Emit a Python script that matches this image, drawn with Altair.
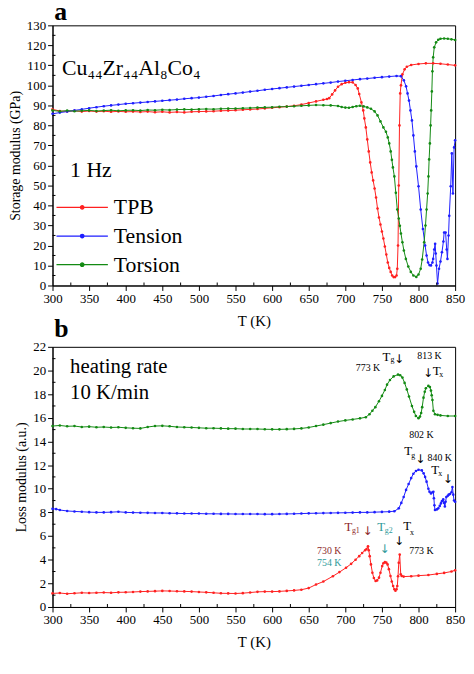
import altair as alt
import pandas as pd

FONT = "Liberation Serif"
RED = "#ff2020"
BLUE = "#1e1eff"
GREEN = "#138a13"
DARKRED = "#8e2a2a"
TEAL = "#2f9a9a"

# ---------------- panel a : storage modulus (GPa) ----------------
tpb_T = [300, 310, 320, 330, 340, 350, 360, 370, 380, 390, 400, 410, 420, 430, 440, 450, 460, 470, 480, 490,
         500, 510, 520, 530, 540, 550, 560, 570, 580, 590, 600, 610, 620, 630, 640, 650, 660, 670, 675, 678,
         682, 686, 690, 695, 700, 705, 710, 714, 717, 719, 722, 724.5, 726, 728, 730, 732, 734, 736, 738, 740,
         742, 744, 746, 748, 750, 752, 754, 756, 758, 760, 762, 764, 766, 768, 770, 771, 772, 773, 774, 775,
         776, 778, 781, 784, 790, 800, 810, 820, 830, 840, 850]
tpb_E = [88.0, 87.2, 87.0, 87.3, 86.9, 87.2, 86.9, 87.1, 86.8, 87.0, 86.8, 86.9, 86.7, 86.9, 86.6, 86.8, 86.5, 86.7, 86.5, 86.8,
         86.9, 87.0, 87.1, 87.3, 87.4, 87.6, 87.8, 88.0, 88.2, 88.5, 88.8, 89.1, 89.4, 89.8, 90.4, 91.2, 92.0, 92.8, 93.2, 93.6,
         95.5, 97.5, 99.3, 100.6, 101.3, 101.6, 101.5, 100.2, 98.5, 95.7, 91.5, 87.5, 83.5, 79.0, 73.0, 67.0, 61.5, 56.5, 52.5, 48.5,
         44.0, 38.5, 34.0, 30.5, 27.0, 23.5, 19.5, 15.5, 11.5, 8.8, 6.8, 5.0, 4.2, 4.2, 5.0, 8.4, 20.0, 50.0, 80.0, 96.0,
         100.0, 105.5, 108.0, 109.3, 110.2, 110.7, 111.0, 111.0, 110.8, 110.4, 110.0]

ten_T = [300, 310, 320, 330, 340, 350, 360, 370, 380, 390, 400, 410, 420, 430, 440, 450, 460, 470, 480, 490,
         500, 510, 520, 530, 540, 550, 560, 570, 580, 590, 600, 610, 620, 630, 640, 650, 660, 670, 680, 690,
         700, 710, 720, 730, 740, 750, 760, 770, 776, 780, 783, 785, 787, 789, 791, 793, 795, 797, 800, 803,
         806, 809, 811, 813, 815, 817, 819, 820, 821.5, 822.7, 823.5, 824.5, 826, 828, 830, 832, 834, 835, 837, 838.5,
         839.5, 841, 842, 844, 845.5, 847, 848.6, 850]
ten_E = [85.8, 86.4, 86.9, 87.5, 88.0, 88.6, 89.1, 89.6, 90.0, 90.4, 90.8, 91.1, 91.4, 91.7, 92.0, 92.3, 92.6, 92.9, 93.3, 93.6,
         93.9, 94.3, 94.7, 95.2, 95.6, 96.0, 96.4, 96.9, 97.3, 97.8, 98.2, 98.6, 99.0, 99.4, 99.8, 100.2, 100.6, 101.0, 101.4, 101.9,
         102.3, 102.7, 103.1, 103.4, 103.8, 104.1, 104.4, 104.7, 104.6, 102.5, 99.5, 96.0, 92.4, 87.5, 82.5, 75.0, 67.0, 59.5, 49.6, 38.0,
         28.2, 20.0, 15.0, 11.5, 10.2, 10.0, 11.5, 13.3, 18.0, 20.8, 16.0, 10.0, 1.0, 8.4, 12.0, 16.6, 22.0, 26.5, 26.5, 18.0,
         13.3, 25.0, 34.8, 49.6, 66.0, 46.0, 69.0, 72.6]

tor_T = [300, 310, 320, 330, 340, 350, 360, 370, 380, 390, 400, 410, 420, 430, 440, 450, 460, 470, 480, 490,
         500, 510, 520, 530, 540, 550, 560, 570, 580, 590, 600, 610, 620, 630, 640, 650, 660, 670, 680, 690,
         695, 700, 705, 710, 715, 720, 725, 730, 735, 740, 744, 748, 752, 755.5, 758, 760, 762, 763.6, 765, 767,
         769, 771, 773, 774.5, 776, 778, 780, 782.7, 786, 789.5, 793, 797, 800, 803, 805, 807.7, 809.5, 811, 812.5, 813.6,
         814.5, 815.5, 816.5, 817.3, 818.2, 819, 820, 821.5, 824, 827, 830, 835, 840, 845, 850]
tor_E = [87.5, 87.0, 87.4, 87.1, 87.3, 87.5, 87.2, 87.4, 87.6, 87.3, 87.5, 87.6, 87.4, 87.7, 87.6, 87.8, 87.7, 87.9, 88.0, 87.9,
         88.1, 88.2, 88.1, 88.3, 88.4, 88.4, 88.6, 88.7, 88.9, 89.0, 89.1, 89.3, 89.4, 89.6, 89.8, 90.0, 90.2, 90.1, 90.0, 89.7,
         89.2, 88.9, 88.8, 89.2, 89.6, 89.8, 89.5, 89.0, 88.3, 87.0, 85.0, 82.0, 79.0, 76.8, 74.0, 71.0, 67.0, 62.8, 59.0, 54.5,
         46.3, 38.0, 33.5, 29.8, 26.0, 21.6, 17.5, 13.3, 9.5, 6.8, 5.0, 4.3, 5.5, 8.4, 13.0, 21.6, 30.0, 38.0, 46.0, 54.5,
         63.0, 71.0, 80.0, 87.5, 97.0, 107.0, 114.0, 119.0, 121.5, 122.8, 123.3, 123.4, 123.3, 123.0, 122.7]

# ---------------- panel b : loss modulus (a.u.) ----------------
tpb_T2 = [300, 310, 320, 330, 340, 350, 360, 370, 380, 390, 400, 410, 420, 430, 440, 450, 460, 470, 480, 490,
          500, 510, 520, 530, 540, 550, 560, 570, 580, 590, 600, 610, 620, 630, 640, 650, 660, 670, 683, 692,
          701, 708, 714, 719, 723, 727, 729, 731, 732, 733.3, 735, 737, 739, 741.4, 743.5, 746, 748, 750.4, 752, 754,
          756, 757.7, 759.5, 761.7, 763.5, 765.3, 767, 768.5, 770, 771, 772, 773, 774.3, 775.7, 777, 779.7, 790, 800, 813.5, 825,
          835, 845, 850]
tpb_L = [1.15, 1.18, 1.12, 1.16, 1.20, 1.18, 1.20, 1.22, 1.20, 1.24, 1.25, 1.27, 1.30, 1.32, 1.34, 1.36, 1.35, 1.33, 1.32, 1.30,
         1.27, 1.24, 1.20, 1.16, 1.15, 1.14, 1.17, 1.22, 1.28, 1.30, 1.30, 1.32, 1.36, 1.40, 1.46, 1.60, 1.90, 2.15, 2.60, 2.95,
         3.32, 3.65, 4.00, 4.30, 4.57, 4.80, 4.90, 5.13, 4.80, 4.30, 3.60, 2.90, 2.45, 2.20, 2.25, 2.48, 2.90, 3.46, 3.70, 3.79,
         3.75, 3.60, 3.20, 2.62, 2.15, 1.78, 1.50, 1.37, 1.50, 1.78, 2.60, 3.74, 4.43, 2.76, 2.62, 2.57, 2.60, 2.65, 2.70, 2.80,
         2.88, 3.00, 3.10]

ten_T2 = [300, 305, 310, 320, 330, 340, 350, 360, 370, 380, 390, 400, 410, 420, 430, 440, 450, 460, 470, 480,
          490, 500, 510, 520, 530, 540, 550, 560, 570, 580, 590, 600, 610, 620, 630, 640, 650, 660, 670, 680,
          690, 700, 710, 720, 730, 740, 750, 760, 767, 773, 776.5, 779.7, 783, 786.5, 790, 793, 796.5, 800, 804.5, 807,
          809, 811, 813.5, 815, 817, 819, 820.3, 821, 821.7, 822.5, 825, 827, 829, 830.6, 832, 833.8, 835, 836, 837, 838,
          840, 841.3, 843, 845, 846.3, 847.5, 848.5, 850]
ten_L = [8.30, 8.28, 8.20, 8.12, 8.08, 8.05, 8.02, 8.00, 8.00, 8.02, 8.05, 8.00, 7.98, 7.97, 7.96, 7.95, 7.95, 7.93, 7.92, 7.90,
         7.90, 7.90, 7.88, 7.88, 7.87, 7.87, 7.86, 7.86, 7.86, 7.86, 7.85, 7.85, 7.86, 7.87, 7.88, 7.90, 7.92, 7.93, 7.94, 7.95,
         7.96, 7.97, 7.98, 8.00, 8.00, 8.02, 8.04, 8.06, 8.10, 8.34, 8.80, 9.30, 9.90, 10.40, 10.90, 11.27, 11.50, 11.60, 11.55, 11.30,
         11.00, 10.60, 10.00, 9.75, 9.60, 9.70, 9.75, 9.20, 8.60, 8.20, 8.25, 8.34, 8.55, 8.76, 8.95, 9.10, 8.80, 8.50, 8.90, 9.30,
         9.40, 9.50, 9.55, 9.70, 10.15, 9.50, 9.00, 8.90]

tor_T2 = [300, 310, 320, 330, 340, 350, 360, 370, 380, 390, 400, 410, 420, 430, 440, 450, 460, 470, 480, 490,
          500, 510, 520, 530, 540, 550, 560, 570, 580, 590, 600, 610, 620, 630, 640, 650, 660, 670, 680, 690,
          700, 710, 720, 728, 733, 737, 741, 746, 750, 754, 757, 761, 766, 772, 775, 778, 781, 784, 787, 791,
          794, 796.4, 800, 802, 803.6, 805, 806.8, 808.5, 810, 813.5, 815.5, 817, 818, 819, 820.3, 822.5, 826, 830, 840, 850]
tor_L = [15.30, 15.35, 15.28, 15.30, 15.22, 15.25, 15.20, 15.22, 15.18, 15.20, 15.15, 15.12, 15.10, 15.22, 15.30, 15.32, 15.28, 15.22, 15.20, 15.18,
         15.15, 15.12, 15.12, 15.10, 15.08, 15.08, 15.05, 15.05, 15.05, 15.03, 15.02, 15.02, 15.04, 15.06, 15.10, 15.18, 15.30, 15.42, 15.55, 15.68,
         15.78, 15.86, 15.95, 16.05, 16.30, 16.60, 16.90, 17.40, 17.85, 18.35, 18.80, 19.20, 19.50, 19.65, 19.60, 19.40, 18.95, 18.40, 17.80, 17.00,
         16.50, 16.15, 15.96, 16.10, 16.40, 16.90, 17.70, 18.20, 18.50, 18.70, 18.60, 18.30, 17.90, 17.50, 16.60, 16.30, 16.25, 16.20, 16.15, 16.15]

series_names = ["TPB", "Tension", "Torsion"]
series_colors = [RED, BLUE, GREEN]

x_ticks = [300, 350, 400, 450, 500, 550, 600, 650, 700, 750, 800, 850]
x_minor = [325, 375, 425, 475, 525, 575, 625, 675, 725, 775, 825]
ya_ticks = [0, 10, 20, 30, 40, 50, 60, 70, 80, 90, 100, 110, 120, 130]
ya_minor = [5, 15, 25, 35, 45, 55, 65, 75, 85, 95, 105, 115, 125]
yb_ticks = [0, 2, 4, 6, 8, 10, 12, 14, 16, 18, 20, 22]
yb_minor = [1, 3, 5, 7, 9, 11, 13, 15, 17, 19, 21]

# panel letters
letter_a = ["a"]
letter_a_x = [302.5]
letter_a_y = [132.5]
letter_b = ["b"]
letter_b_x = [302.5]
letter_b_y = [22.8]

# text of panel a
a_text = ["Cu₄₄Zr₄₄Al₈Co₄", "1 Hz"]
a_x = [313, 324]
a_y = [108.5, 57.8]

# annotations of panel b
b_text = ["heating rate", "10 K/min"]
b_x = [324, 324]
b_y = [20.3, 18.05]
ann_text = ["773 K", "813 K", "802 K", "840 K", "730 K", "754 K", "773 K"]
ann_x = [731, 815, 804, 829, 678, 678, 804]
ann_y = [20.2, 21.25, 14.5, 12.6, 4.71, 3.74, 4.71]
ann_col = ["black", "black", "black", "black", DARKRED, TEAL, "black"]
tl_x = [756, 824.7, 785.8, 822.7, 704.3, 749, 784.5]
tl_y = [21.17, 19.97, 13.2, 11.55, 6.75, 6.75, 6.86]
tl_col = ["black", "black", "black", "black", DARKRED, TEAL, "black"]
sub_text = ["g", "x", "g", "x", "g1", "g2", "x"]
sub_x = [761.7, 828.4, 790, 827, 709, 754, 788.3]
sub_y = [20.9, 19.64, 12.8, 11.27, 6.39, 6.39, 6.25]
arr_x = [774, 813.5, 803, 840.5, 731, 754, 774]
arr_y = [21.0, 19.8, 12.55, 10.85, 6.4, 4.9, 5.6]
arr_col = ["black", "black", "black", "black", DARKRED, TEAL, "black"]


def long_df(parts):
    frames = []
    for name, T, v in parts:
        frames.append(pd.DataFrame({"T": T, "v": v, "series": name}))
    return pd.concat(frames, ignore_index=True)


df_a = long_df([("TPB", tpb_T, tpb_E), ("Tension", ten_T, ten_E), ("Torsion", tor_T, tor_E)])
df_b = long_df([("TPB", tpb_T2, tpb_L), ("Tension", ten_T2, ten_L), ("Torsion", tor_T2, tor_L)])

W, H = 407, 263
xscale = alt.Scale(domain=[300, 850], nice=False, zero=False)

# legend symbol: a long line with a dot, drawn larger than its nominal box
LEG_PATH = "M-3,0H3M-0.2,0A0.2,0.2,0,1,1,0.2,0A0.2,0.2,0,1,1,-0.2,0"


def panel(df, ydom, yticks, yminor, ytitle, with_legend, texts):
    xa = alt.Axis(values=x_ticks, title="T (K)", titlePadding=8)
    ya = alt.Axis(values=yticks, title=ytitle, titlePadding=4)
    ys = alt.Scale(domain=ydom, nice=False, zero=False)
    X = lambda f: alt.X(f, scale=xscale, axis=xa)
    Y = lambda f: alt.Y(f, scale=ys, axis=ya)
    if with_legend:
        leg = alt.Legend(title=None, orient="none", legendX=19, legendY=173, symbolType=LEG_PATH,
                         symbolSize=300, symbolStrokeWidth=1.3, labelFont=FONT, labelFontSize=22,
                         labelColor="black", labelOffset=21, rowPadding=7, labelLimit=200)
    else:
        leg = None
    lines = alt.Chart(df).mark_line(strokeWidth=1, point=alt.OverlayMarkDef(size=7, filled=True)).encode(
        x=X("T:Q"), y=Y("v:Q"),
        color=alt.Color("series:N", scale=alt.Scale(domain=series_names, range=series_colors),
                        legend=leg, sort=series_names),
        order="T:Q",
    )
    mx = alt.Chart(pd.DataFrame({"T": x_minor})).mark_rule(color="black", strokeWidth=1).encode(
        x=X("T:Q"), y=alt.value(H), y2=alt.value(H - 3))
    my = alt.Chart(pd.DataFrame({"v": yminor})).mark_rule(color="black", strokeWidth=1).encode(
        y=Y("v:Q"), x=alt.value(0), x2=alt.value(3))
    layers = [lines, mx, my]
    for (tdf, style) in texts:
        enc = dict(x=X("T:Q"), y=Y("v:Q"), text="t:N")
        if "c" in tdf.columns:
            enc["color"] = alt.Color("c:N", scale=None)
        layers.append(alt.Chart(tdf).mark_text(clip=False, **style).encode(**enc))
    return alt.layer(*layers).properties(width=W, height=H)


LETTER_STYLE = dict(font=FONT, fontSize=26, fontWeight="bold", align="left", baseline="alphabetic", color="black")

texts_a = [
    (pd.DataFrame({"t": letter_a, "T": letter_a_x, "v": letter_a_y}), LETTER_STYLE),
    (pd.DataFrame({"t": a_text, "T": a_x, "v": a_y}),
     dict(font=FONT, fontSize=22, align="left", baseline="middle", color="black")),
]
texts_b = [
    (pd.DataFrame({"t": letter_b, "T": letter_b_x, "v": letter_b_y}), LETTER_STYLE),
    (pd.DataFrame({"t": b_text, "T": b_x, "v": b_y}),
     dict(font=FONT, fontSize=21, align="left", baseline="middle", color="black")),
    (pd.DataFrame({"t": ann_text, "T": ann_x, "v": ann_y, "c": ann_col}),
     dict(font=FONT, fontSize=10, align="center", baseline="middle")),
    (pd.DataFrame({"t": ["T"] * len(tl_x), "T": tl_x, "v": tl_y, "c": tl_col}),
     dict(font=FONT, fontSize=13, align="center", baseline="middle")),
    (pd.DataFrame({"t": sub_text, "T": sub_x, "v": sub_y, "c": tl_col}),
     dict(font=FONT, fontSize=8, align="left", baseline="middle")),
    (pd.DataFrame({"t": ["↓"] * len(arr_x), "T": arr_x, "v": arr_y, "c": arr_col}),
     dict(font="DejaVu Sans", fontSize=12, align="center", baseline="middle")),
]

top = panel(df_a, [0, 130], ya_ticks, ya_minor, "Storage modulus (GPa)", True, texts_a)
bottom = panel(df_b, [0, 22], yb_ticks, yb_minor, "Loss modulus (a.u.)", False, texts_b)

chart = alt.vconcat(top, bottom, spacing=-14).resolve_scale(color="independent").properties(
    padding={"left": 0, "top": -13, "right": 0, "bottom": 0}
).configure_view(
    stroke="black", strokeWidth=1
).configure_axis(
    grid=False, tickSize=5, tickColor="black", domainColor="black",
    labelFont=FONT, labelFontSize=13, labelColor="black", labelPadding=2,
    labelFlush=False, labelOverlap=False,
    titleFont=FONT, titleFontSize=15, titleFontWeight="normal", titleColor="black",
).configure_axisY(titleFontSize=14)

chart.save("out.html", embed_options={"renderer": "svg", "actions": False})
